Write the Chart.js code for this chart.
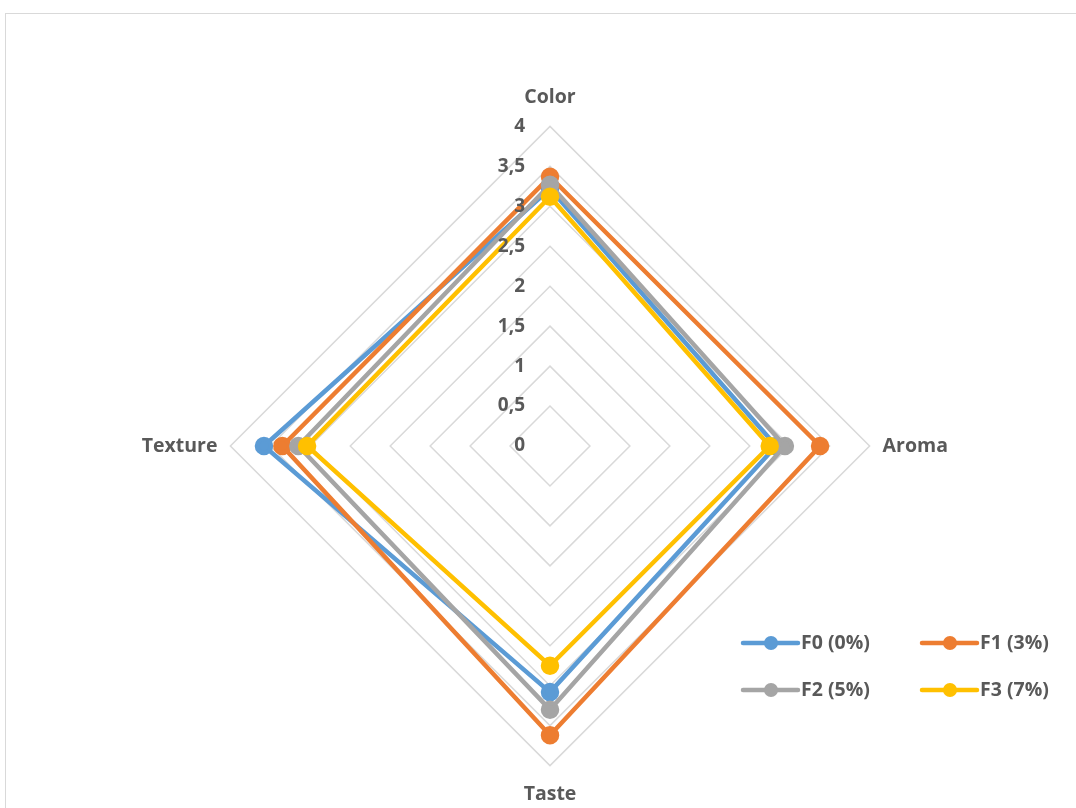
<!DOCTYPE html>
<html>
<head>
<meta charset="utf-8">
<script src="https://cdn.jsdelivr.net/npm/chart.js@4.4.1/dist/chart.umd.min.js"></script>
<style>
  html, body { margin: 0; padding: 0; background: #ffffff; overflow: hidden; }
  #frame {
    position: absolute; left: 5px; top: 13px; width: 1100px; height: 820px;
    border: 1px solid #d9d9d9; box-sizing: border-box;
  }
  #wrap { position: absolute; left: 0; top: 0; width: 1076px; height: 808px; }
</style>
</head>
<body>
<div id="frame"></div>
<div id="wrap"><canvas id="chart" width="1076" height="808"></canvas></div>
<script>
// Sensory attributes scored for each formulation
const attributes = ['Color', 'Aroma', 'Taste', 'Texture'];
const seriesNames = ['F0 (0%)', 'F1 (3%)', 'F2 (5%)', 'F3 (7%)'];
const f0Scores = [3.22, 2.83, 3.08, 3.58];
const f1Scores = [3.37, 3.38, 3.62, 3.35];
const f2Scores = [3.27, 2.94, 3.30, 3.15];
const f3Scores = [3.12, 2.75, 2.75, 3.04];
const scaleTicks = [0, 0.5, 1, 1.5, 2, 2.5, 3, 3.5, 4];
const seriesColors = ['#5B9BD5', '#ED7D31', '#A5A5A5', '#FFC000'];

const TEXT = '#595959';
const FONT = '"Open Sans", Lato, sans-serif';

const allScores = [f0Scores, f1Scores, f2Scores, f3Scores];
const datasets = allScores.map((scores, i) => ({
  label: seriesNames[i],
  data: scores,
  borderColor: seriesColors[i],
  backgroundColor: seriesColors[i],
  pointBackgroundColor: seriesColors[i],
  pointBorderColor: seriesColors[i],
  borderWidth: 4.5,
  pointRadius: 7,
  pointHoverRadius: 7,
  fill: false,
  // later series are painted over earlier ones
  order: seriesNames.length - i
}));

const fmt = v => String(v).replace('.', ',');

// Value labels left of the vertical axis, painted over the series
const tickLabelPlugin = {
  id: 'tickLabels',
  afterDatasetsDraw(chart) {
    const r = chart.scales.r;
    const ctx = chart.ctx;
    ctx.save();
    ctx.font = 'bold 19px ' + FONT;
    ctx.fillStyle = TEXT;
    ctx.textAlign = 'right';
    ctx.textBaseline = 'middle';
    scaleTicks.forEach(v => {
      const d = r.getDistanceFromCenterForValue(v);
      ctx.fillText(fmt(v), r.xCenter - 25, r.yCenter - d);
    });
    ctx.restore();
  }
};

// Two-column legend in the lower right
const legendPlugin = {
  id: 'cornerLegend',
  afterDraw(chart) {
    const ctx = chart.ctx;
    const colX = [743, 922];
    const rowY = [643, 690];
    ctx.save();
    ctx.font = 'bold 19.5px ' + FONT;
    ctx.textBaseline = 'middle';
    ctx.textAlign = 'left';
    chart.data.datasets.forEach((ds, i) => {
      const x0 = colX[i % 2];
      const y = rowY[Math.floor(i / 2)];
      ctx.strokeStyle = ds.borderColor;
      ctx.lineWidth = 4.5;
      ctx.lineCap = 'round';
      ctx.beginPath();
      ctx.moveTo(x0, y);
      ctx.lineTo(x0 + 55, y);
      ctx.stroke();
      ctx.fillStyle = ds.borderColor;
      ctx.beginPath();
      ctx.arc(x0 + 28, y, 7, 0, Math.PI * 2);
      ctx.fill();
      ctx.fillStyle = TEXT;
      ctx.fillText(ds.label, x0 + 58, y);
    });
    ctx.restore();
  }
};

new Chart(document.getElementById('chart'), {
  type: 'radar',
  data: { labels: attributes, datasets },
  options: {
    responsive: false,
    animation: false,
    layout: { padding: { top: 86, bottom: 2, left: 80, right: 56 } },
    plugins: { legend: { display: false }, tooltip: { enabled: false } },
    elements: { line: { tension: 0 } },
    scales: {
      r: {
        min: 0,
        max: 4,
        beginAtZero: true,
        ticks: { display: false, stepSize: 0.5 },
        grid: { color: '#d9d9d9', lineWidth: 1.5, circular: false },
        angleLines: { display: false },
        pointLabels: {
          color: TEXT,
          font: { family: FONT, size: 19.5, weight: 'bold' },
          padding: ctx => [17, 13, 17, 13][ctx.index]
        }
      }
    }
  },
  plugins: [tickLabelPlugin, legendPlugin]
});
</script>
</body>
</html>
